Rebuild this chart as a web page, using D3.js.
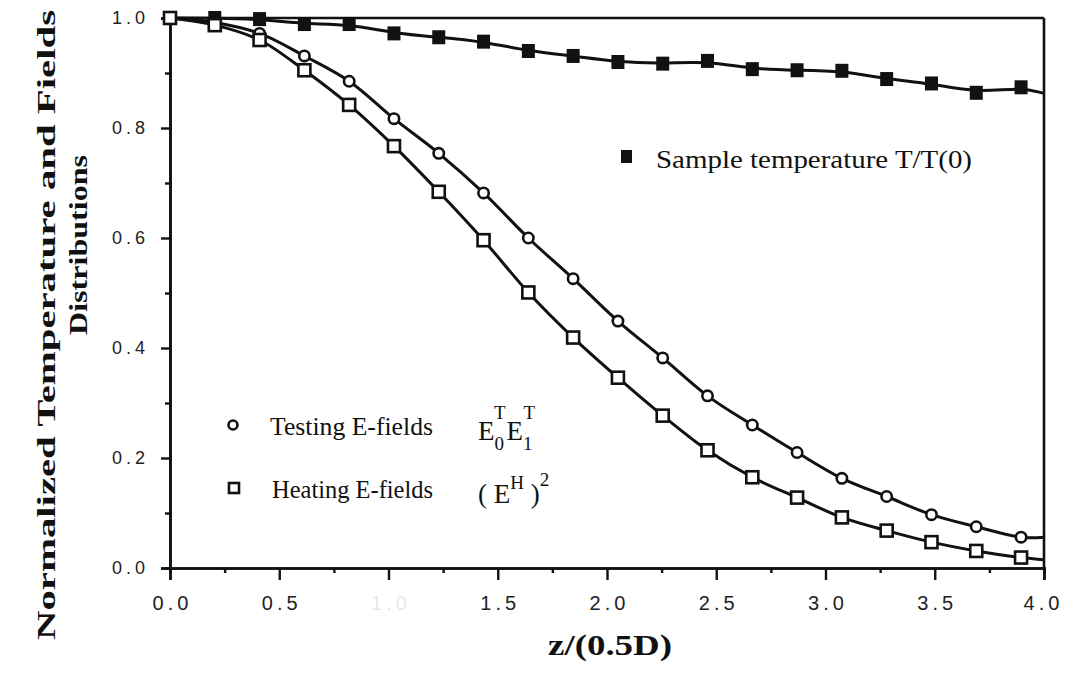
<!DOCTYPE html>
<html>
<head>
<meta charset="utf-8">
<script src="https://cdn.jsdelivr.net/npm/d3@7"></script>
<style>
  body { margin: 0; background: #fff; }
  svg { display: block; }
</style>
</head>
<body>
<svg id="chart" width="1067" height="673"></svg>
<script>
// Axial position of each sample, z/(0.5D)
const zPositions = [0, 0.205, 0.41, 0.615, 0.82, 1.025, 1.23, 1.435, 1.64, 1.845,
                    2.05, 2.255, 2.46, 2.665, 2.87, 3.075, 3.28, 3.485, 3.69, 3.895];

// Testing E-fields  E0T·E1T
const testingField = [1.0, 0.992, 0.972, 0.931, 0.885, 0.817, 0.754, 0.682, 0.600, 0.526,
                      0.449, 0.382, 0.313, 0.260, 0.210, 0.163, 0.130, 0.097, 0.075, 0.056];

// Heating E-fields  (EH)^2
const heatingField = [1.0, 0.987, 0.960, 0.905, 0.842, 0.767, 0.684, 0.596, 0.501, 0.419,
                      0.346, 0.277, 0.214, 0.165, 0.128, 0.092, 0.068, 0.047, 0.031, 0.019];

// Sample temperature T/T(0)
const sampleTemperature = [1.0, 1.0, 0.998, 0.989, 0.989, 0.972, 0.965, 0.957, 0.940, 0.931,
                           0.920, 0.917, 0.922, 0.907, 0.905, 0.904, 0.889, 0.881, 0.864, 0.874];

// Curve values where each fitted line meets the right edge (z = 4.0)
const curveEndZ = 4.0;
const testingEnd = 0.056;
const heatingEnd = 0.015;
const temperatureEnd = 0.863;

// Axis ticks
const xMajorTicks = [0, 0.5, 1.0, 1.5, 2.0, 2.5, 3.0, 3.5, 4.0];
const xTickLabels = ["0.0", "0.5", "1.0", "1.5", "2.0", "2.5", "3.0", "3.5", "4.0"];
const xMinorTicks = [0.25, 0.75, 1.25, 1.75, 2.25, 2.75, 3.25, 3.75];
const yMajorTicks = [0, 0.2, 0.4, 0.6, 0.8, 1.0];
const yTickLabels = ["0.0", "0.2", "0.4", "0.6", "0.8", "1.0"];
const yMinorTicks = [0.1, 0.3, 0.5, 0.7, 0.9];

const svg = d3.select("#chart");

const x = d3.scaleLinear().domain([0, 4]).range([170, 1044]);
const y = d3.scaleLinear().domain([0, 1]).range([568, 18]);

const ink = "#111";

// ---- Axes -------------------------------------------------------------
const xMinorAxis = d3.axisBottom(x).tickValues(xMinorTicks).tickSize(5).tickFormat("");
const xMajorAxis = d3.axisBottom(x).tickValues(xMajorTicks).tickSize(12)
  .tickFormat((d, i) => xTickLabels[i]).tickPadding(16);
const yMinorAxis = d3.axisLeft(y).tickValues(yMinorTicks).tickSize(5).tickFormat("");
const yMajorAxis = d3.axisLeft(y).tickValues(yMajorTicks).tickSize(9)
  .tickFormat((d, i) => yTickLabels[i]).tickPadding(12);

const axisLayer = svg.append("g");

function styleAxis(g) {
  g.select(".domain").attr("stroke", ink).attr("stroke-width", 2.6);
  g.selectAll(".tick line").attr("stroke", ink).attr("stroke-width", 2.4);
  g.selectAll(".tick text")
    .attr("fill", "#222")
    .style("font-family", "'Liberation Sans', Arial, sans-serif");
}

axisLayer.append("g").attr("transform", `translate(0,${y(0)})`).call(xMinorAxis).call(styleAxis);
axisLayer.append("g").attr("transform", `translate(0,${y(0)})`).call(xMajorAxis).call(styleAxis)
  .selectAll(".tick text")
  .style("font-size", "20px")
  .style("letter-spacing", "4px")
  .attr("dx", (d) => (d === 4.0 ? -1 : 2))
  .attr("fill-opacity", (d) => (d === 1.0 ? 0.12 : 1));

axisLayer.append("g").attr("transform", `translate(${x(0)},0)`).call(yMinorAxis).call(styleAxis);
axisLayer.append("g").attr("transform", `translate(${x(0)},0)`).call(yMajorAxis).call(styleAxis)
  .selectAll(".tick text")
  .style("font-size", "18px")
  .style("letter-spacing", "4px");

// Frame: top and right edges
axisLayer.append("line")
  .attr("x1", x(0)).attr("x2", x(4)).attr("y1", y(1)).attr("y2", y(1))
  .attr("stroke", ink).attr("stroke-width", 2.6);
axisLayer.append("line")
  .attr("x1", x(4)).attr("x2", x(4)).attr("y1", y(1)).attr("y2", y(0))
  .attr("stroke", ink).attr("stroke-width", 2.6);

// ---- Curves -----------------------------------------------------------
function seriesPoints(values, endValue) {
  const pts = zPositions.map((z, i) => [z, values[i]]);
  pts.push([curveEndZ, endValue]);
  return pts;
}

const fieldLine = d3.line()
  .x((d) => x(d[0]))
  .y((d) => y(d[1]))
  .curve(d3.curveCatmullRom.alpha(0.5));

// the temperature fit is a smoothed trend through the scattered samples
const trendLine = d3.line()
  .x((d) => x(d[0]))
  .y((d) => y(d[1]))
  .curve(d3.curveBasis);

const curveLayer = svg.append("g").attr("fill", "none").attr("stroke", ink)
  .attr("stroke-width", 3).attr("stroke-linejoin", "round");

curveLayer.append("path").attr("d", trendLine(seriesPoints(sampleTemperature, temperatureEnd)));
curveLayer.append("path").attr("d", fieldLine(seriesPoints(testingField, testingEnd)));
curveLayer.append("path").attr("d", fieldLine(seriesPoints(heatingField, heatingEnd)));

// ---- Markers ----------------------------------------------------------
const markerLayer = svg.append("g");
const sq = 12;

markerLayer.selectAll("rect.temp")
  .data(zPositions.map((z, i) => [z, sampleTemperature[i]]))
  .join("rect")
  .attr("x", (d) => x(d[0]) - 6.5)
  .attr("y", (d) => y(d[1]) - 7)
  .attr("width", 13).attr("height", 14)
  .attr("fill", ink);

markerLayer.selectAll("circle.testing")
  .data(zPositions.map((z, i) => [z, testingField[i]]))
  .join("circle")
  .attr("cx", (d) => x(d[0]))
  .attr("cy", (d) => y(d[1]))
  .attr("r", 5.2)
  .attr("fill", "#fff").attr("stroke", ink).attr("stroke-width", 2.6);

markerLayer.selectAll("rect.heating")
  .data(zPositions.map((z, i) => [z, heatingField[i]]))
  .join("rect")
  .attr("x", (d) => x(d[0]) - sq / 2)
  .attr("y", (d) => y(d[1]) - sq / 2)
  .attr("width", sq).attr("height", sq)
  .attr("fill", "#fff").attr("stroke", ink).attr("stroke-width", 2.6);

// ---- Legend -----------------------------------------------------------
const legendFont = "'Liberation Serif', 'Times New Roman', serif";
const legend = svg.append("g").style("font-family", legendFont).attr("fill", "#111");

legend.append("rect").attr("x", 621).attr("y", 150).attr("width", 11).attr("height", 13).attr("fill", ink);
legend.append("text").attr("x", 656).attr("y", 168).style("font-size", "25px")
  .attr("textLength", 316).attr("lengthAdjust", "spacingAndGlyphs")
  .text("Sample temperature T/T(0)");

legend.append("circle").attr("cx", 233).attr("cy", 425).attr("r", 4.5)
  .attr("fill", "#fff").attr("stroke", ink).attr("stroke-width", 2.6);
legend.append("text").attr("x", 270).attr("y", 435).style("font-size", "25px")
  .attr("textLength", 163).attr("lengthAdjust", "spacingAndGlyphs")
  .text("Testing E-fields");

legend.append("rect").attr("x", 229).attr("y", 483).attr("width", 10).attr("height", 10)
  .attr("fill", "#fff").attr("stroke", ink).attr("stroke-width", 2.6);
legend.append("text").attr("x", 272).attr("y", 498).style("font-size", "25px")
  .attr("textLength", 161).attr("lengthAdjust", "spacingAndGlyphs")
  .text("Heating E-fields");

// E0T E1T
const f1 = legend.append("text").attr("x", 478).attr("y", 440).style("font-size", "27px");
f1.append("tspan").text("E");
f1.append("tspan").attr("dy", 10).style("font-size", "19px").text("0");
f1.append("tspan").attr("dy", -31).attr("dx", -10).style("font-size", "19px").text("T");
f1.append("tspan").attr("dy", 21).attr("dx", 1).text("E");
f1.append("tspan").attr("dy", 10).style("font-size", "19px").text("1");
f1.append("tspan").attr("dy", -31).attr("dx", -9).style("font-size", "19px").text("T");

// (EH)^2
const f2 = legend.append("text").attr("x", 478).attr("y", 503).style("font-size", "27px");
f2.append("tspan").text("( E");
f2.append("tspan").attr("dy", -14).style("font-size", "19px").text("H");
f2.append("tspan").attr("dy", 14).text(" )");
f2.append("tspan").attr("dy", -17).style("font-size", "19px").text("2");

// ---- Axis titles ------------------------------------------------------
const titleFont = "'Liberation Serif', 'Times New Roman', serif";

svg.append("text")
  .attr("transform", "translate(55,325) rotate(-90)")
  .attr("text-anchor", "middle")
  .style("font-family", titleFont).style("font-weight", "bold").style("font-size", "25px")
  .attr("textLength", 630).attr("lengthAdjust", "spacingAndGlyphs")
  .attr("fill", "#111")
  .text("Normalized Temperature and Fields");

svg.append("text")
  .attr("transform", "translate(87,245) rotate(-90)")
  .attr("text-anchor", "middle")
  .style("font-family", titleFont).style("font-weight", "bold").style("font-size", "25px")
  .attr("textLength", 180).attr("lengthAdjust", "spacingAndGlyphs")
  .attr("fill", "#111")
  .text("Distributions");

svg.append("text")
  .attr("x", 610).attr("y", 655)
  .attr("text-anchor", "middle")
  .style("font-family", titleFont).style("font-weight", "bold").style("font-size", "29px")
  .attr("textLength", 124).attr("lengthAdjust", "spacingAndGlyphs")
  .attr("fill", "#111")
  .text("z/(0.5D)");
</script>
</body>
</html>
